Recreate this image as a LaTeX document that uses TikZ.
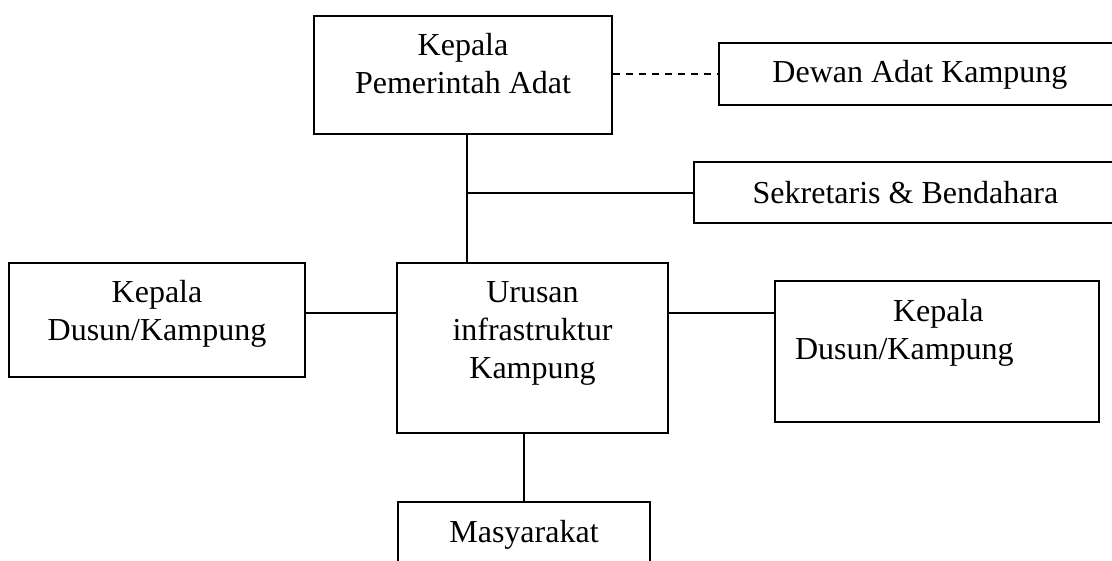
\documentclass[tikz,border=0pt]{standalone}
\usepackage{fontspec}
\setmainfont{Liberation Serif}
\tikzset{
  box/.style={draw, line width=1.7pt, inner sep=0pt},
  link/.style={line width=1.7pt},
  txt/.style={anchor=base, inner sep=0pt, font=\fontsize{32}{38}\selectfont},
}
\begin{document}
\begin{tikzpicture}[x=1pt, y=-1pt]
  \useasboundingbox (0,0) rectangle (1112,561);
  \clip (0,0) rectangle (1112,561);
  % boxes
  \node[box, minimum width=298pt, minimum height=118pt,
    label={[txt, yshift=-40pt]north:\parbox[t]{298pt}{\centering Kepala\\Pemerintah Adat}}]
    (kepala) at (463,75) {};
  \node[box, minimum width=402pt, minimum height=62pt,
    label={[txt, yshift=-40pt]north:\parbox[t]{402pt}{\centering Dewan Adat Kampung}}]
    (dewan) at (920,74) {};
  \node[box, minimum width=423pt, minimum height=61pt,
    label={[txt, yshift=-42pt]north:\parbox[t]{423pt}{\centering Sekretaris \& Bendahara}}]
    (sekre) at (905.5,192.5) {};
  \node[box, minimum width=296pt, minimum height=114pt,
    label={[txt, yshift=-40pt]north:\parbox[t]{296pt}{\centering Kepala\\Dusun/Kampung}}]
    (dusunL) at (157,320) {};
  \node[box, minimum width=271pt, minimum height=170pt,
    label={[txt, yshift=-40pt]north:\parbox[t]{271pt}{\centering Urusan\\infrastruktur\\Kampung}}]
    (urusan) at (532.5,348) {};
  \node[box, minimum width=324pt, minimum height=141pt,
    label={[txt, yshift=-41pt]north:\parbox[t]{324pt}{\raggedright\hspace*{118pt}Kepala\\\hspace*{20pt}Dusun/Kampung}}]
    (dusunR) at (937,351.5) {};
  \node[box, minimum width=252pt, minimum height=63pt,
    label={[txt, yshift=-41pt]north:\parbox[t]{252pt}{\centering Masyarakat}}]
    (masy) at (524,533.5) {};
  % lines
  \coordinate (split) at (467,193);
  \coordinate (mid) at (0,313);
  \draw[link, dash pattern=on 7pt off 6pt] (kepala.east |- dewan.west) -- (dewan.west);
  \draw[link] (kepala.south -| split) -- (urusan.north -| split);
  \draw[link] (split) -- (sekre.west |- split);
  \draw[link] (dusunL.east |- mid) -- (urusan.west |- mid);
  \draw[link] (urusan.east |- mid) -- (dusunR.west |- mid);
  \draw[link] (urusan.south -| masy.north) -- (masy.north);
\end{tikzpicture}
\end{document}
